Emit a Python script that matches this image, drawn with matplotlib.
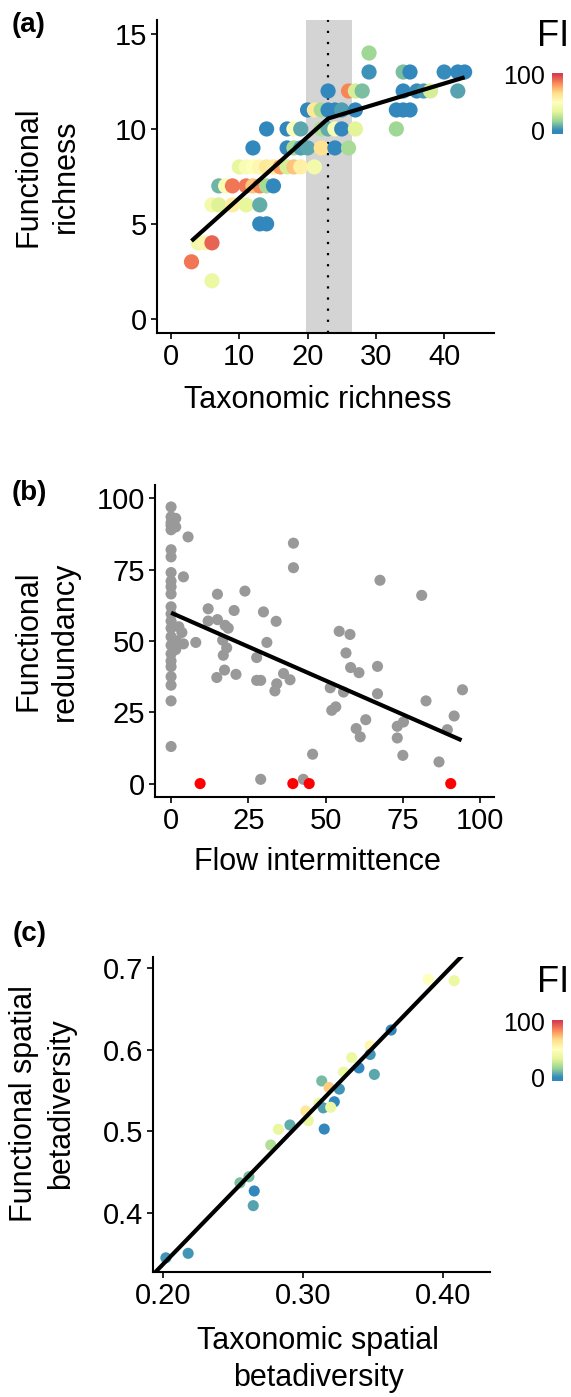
import numpy as np
import matplotlib
matplotlib.use("Agg")
import matplotlib.pyplot as plt
from matplotlib.colors import LinearSegmentedColormap, Normalize

plt.rcParams['font.family'] = ['Liberation Sans', 'DejaVu Sans']

# ---------------- data ----------------
# Panel (a): taxonomic richness vs functional richness, coloured by flow intermittence (FI)
a_x = [29,
       29, 34, 35, 40, 42, 43,
       23, 26, 27, 28, 34, 36, 37, 38, 42,
       20, 21, 22, 23, 24, 25, 27, 33, 34, 35,
       14, 17, 18, 19, 22, 23, 24, 25, 27, 33,
       12, 17, 18, 19, 20, 22, 24, 26,
       10, 11, 12, 13, 14, 15, 16, 17, 18, 19, 21,
       7, 8, 9, 11, 12, 13, 14, 15,
       6, 7, 9, 11, 13,
       13, 14,
       4, 5, 6,
       3,
       6]
a_y = [14,
       13, 13, 13, 13, 13, 13,
       12, 12, 12, 12, 12, 12, 12, 12, 12,
       11, 11, 11, 11, 11, 11, 11, 11, 11, 11,
       10, 10, 10, 10, 10, 10, 10, 10, 10, 10,
       9, 9, 9, 9, 9, 9, 9, 9,
       8, 8, 8, 8, 8, 8, 8, 8, 8, 8, 8,
       7, 7, 7, 7, 7, 7, 7, 7,
       6, 6, 6, 6, 6,
       5, 5,
       4, 4, 4,
       3,
       2]
a_fi = [18,
        2, 12, 0, 1, 0, 0,
        0, 85, 30, 12, 0, 1, 4, 30, 6,
        0, 62, 20, 0, 0, 5, 0, 0, 0, 0,
        0, 0, 48, 7, 22, 8, 45, 0, 33, 18,
        0, 0, 20, 5, 7, 65, 0, 20,
        35, 45, 48, 55, 62, 60, 80, 30, 72, 58, 42,
        10, 45, 88, 88, 72, 85, 20, 0,
        42, 32, 60, 35, 8,
        0, 0,
        40, 55, 92,
        88,
        38]
a_fit_x = [3, 23, 43]
a_fit_y = [4.1, 10.55, 12.72]
a_break = 23.0
a_break_ci = [19.7, 26.5]

# Panel (b): flow intermittence vs functional redundancy
b_x = [0, 0, 0, 0, 0, 0, 0, 0, 0, 0, 0, 0, 0, 0, 0, 0, 0, 0, 0, 0, 0, 0, 0, 0,
       1.5, 1.5, 5.5, 4, 3.5, 4, 1.8, 2.5, 1.5,
       8, 12, 12, 15, 15, 17.5, 18.5, 16.7, 18, 16.9, 17.3, 14.8, 20.4, 21, 23.9,
       27.7, 27.7, 29, 29, 29.9, 31, 34, 34.2, 33.6, 36.4, 38.5, 39.6, 39.6,
       42.8, 45.8, 51.5, 52, 53.3, 54.4, 57.9, 56.6, 58.1, 60.8, 55.8, 59.9,
       61.2, 63, 66.8, 66.8, 67.6, 73.2, 75.2, 73.2, 75, 81.1, 82.5, 86.7,
       89.4, 91.6, 94.3]
b_y = [97, 93.5, 91.5, 90.5, 89, 82, 79.5, 74, 71, 69, 66.5, 62, 59.5, 57, 54.5,
       51.5, 48.5, 45.5, 43, 41, 37.5, 34.5, 29, 13,
       93, 90, 86.5, 72.5, 53, 49, 50, 55, 47,
       49.5, 61.3, 57, 57.5, 66.4, 55.5, 54.5, 50.3, 47.6, 45, 39.8, 37.2, 60.7,
       38.3, 67.5, 44.2, 36.2, 36.2, 1.5, 60.2, 49.5, 56.9, 35, 32.5, 38.6, 36.4,
       84.3, 75.7, 1.5, 10.3, 33.6, 25.7, 26.9, 53.4, 52.3, 45.8, 40.7, 38.9,
       32.1, 19.3, 16.4, 22.4, 41.1, 31.5, 71.3, 20.1, 21.6, 16.0, 9.9, 66.0,
       29.0, 7.6, 18.9, 23.7, 32.9]
b_zero_x = [9.4, 39.4, 44.7, 90.5]
b_zero_y = [0, 0, 0, 0]
b_fit_x = [0, 94]
b_fit_y = [59.9, 15.2]

# Panel (c): taxonomic vs functional spatial betadiversity
c_x = [0.3895, 0.408, 0.363, 0.348, 0.348, 0.3348, 0.340, 0.351, 0.329, 0.3134,
       0.3186, 0.326, 0.3224, 0.3114, 0.3145, 0.3198, 0.302, 0.3038, 0.3152,
       0.2907, 0.2824, 0.277, 0.2614, 0.255, 0.2652, 0.2645, 0.2021, 0.218]
c_y = [0.687, 0.685, 0.6245, 0.605, 0.5945, 0.5906, 0.578, 0.570, 0.573, 0.562,
       0.554, 0.552, 0.5365, 0.5346, 0.529, 0.5297, 0.5252, 0.5133, 0.503,
       0.508, 0.5027, 0.4834, 0.4445, 0.437, 0.427, 0.409, 0.345, 0.3505]
c_fi = [50, 38, 0, 55, 3, 38, 0, 7, 38, 11,
        70, 3, 0, 38, 5, 38, 62, 37, 0,
        8, 36, 22, 11, 12, 0, 6, 3, 3]
c_intercept = -0.0174
c_slope = 1.772

spectral = ["#3288BD", "#99D594", "#E6F598", "#FFFFBF", "#FEE08B", "#FC8D59", "#D53E4F"]
cmap = LinearSegmentedColormap.from_list("spec", spectral)
norm = Normalize(0, 100)

# ---------------- figure ----------------
W, H = 571, 1397
fig = plt.figure(figsize=(W / 100, H / 100), dpi=100)


def box(l, t, r, b):
    return [l / W, 1 - b / H, (r - l) / W, (b - t) / H]


TICK_FS = 21
LAB_FS = 22
PANEL_FS = 20
LS = 1.3


def style(ax):
    for s in ['top', 'right']:
        ax.spines[s].set_visible(False)
    for s in ['left', 'bottom']:
        ax.spines[s].set_linewidth(1.5)
        ax.spines[s].set_color('black')
    ax.tick_params(length=4, width=1.2, labelsize=TICK_FS, pad=3, colors='black')


def colorbar(l, t):
    cax = fig.add_axes(box(l, t, l + 11, t + 61))
    grad = np.linspace(-6, 102, 256)[:, None]
    cax.imshow(grad, aspect='auto', cmap=cmap, norm=norm, origin='lower',
               extent=[0, 1, -6, 102])
    cax.set_xticks([])
    cax.set_yticks([0, 100])
    cax.set_yticklabels(['0', '100'])
    cax.yaxis.tick_left()
    cax.tick_params(length=0, labelsize=18, pad=5)
    for s in cax.spines.values():
        s.set_visible(False)
    fig.text((l + 1) / W, 1 - (t - 37) / H, 'FI', ha='center', va='center', fontsize=26)


# ----- panel (a)
ax = fig.add_axes(box(157, 20, 494, 333))
style(ax)
ax.axvspan(a_break_ci[0], a_break_ci[1], color='#d4d4d4', lw=0, zorder=0)
ax.axvline(a_break, color='black', lw=1.6, linestyle=(0, (1, 4)), zorder=1)
ax.scatter(a_x, a_y, c=a_fi, cmap=cmap, norm=norm, s=120, edgecolors='none', zorder=2)
ax.plot(a_fit_x, a_fit_y, color='black', lw=3, zorder=3, solid_capstyle='butt')
ax.set_xlim(-2.05, 47.3)
ax.set_ylim(-0.75, 15.74)
ax.set_xticks([0, 10, 20, 30, 40])
ax.set_yticks([0, 5, 10, 15])
ax.set_xlabel('Taxonomic richness', fontsize=LAB_FS, va='center')
ax.xaxis.set_label_coords(0.477, -0.214)
ax.set_ylabel('Functional\nrichness', fontsize=LAB_FS, va='center', linespacing=LS)
ax.yaxis.set_label_coords(-0.326, 0.5)
fig.text(29 / W, 1 - 25 / H, '(a)', ha='center', va='center', fontsize=PANEL_FS, fontweight='bold')
colorbar(552, 73)

# ----- panel (b)
ax = fig.add_axes(box(155, 485, 494, 797))
style(ax)
ax.scatter(b_x, b_y, color='#999999', s=64, edgecolors='none', zorder=2)
ax.scatter(b_zero_x, b_zero_y, color='#ff0000', s=64, edgecolors='none', zorder=3)
ax.plot(b_fit_x, b_fit_y, color='black', lw=3, zorder=4, solid_capstyle='butt')
ax.set_xlim(-5.2, 104.5)
ax.set_ylim(-4.7, 104.7)
ax.set_xticks([0, 25, 50, 75, 100])
ax.set_yticks([0, 25, 50, 75, 100])
ax.set_xlabel('Flow intermittence', fontsize=LAB_FS, va='center')
ax.xaxis.set_label_coords(0.48, -0.208)
ax.set_ylabel('Functional\nredundancy', fontsize=LAB_FS, va='center', linespacing=LS)
ax.yaxis.set_label_coords(-0.32, 0.5)
fig.text(29 / W, 1 - 493 / H, '(b)', ha='center', va='center', fontsize=PANEL_FS, fontweight='bold')

# ----- panel (c)
ax = fig.add_axes(box(153, 957, 490, 1272))
style(ax)
ax.scatter(c_x, c_y, c=c_fi, cmap=cmap, norm=norm, s=64, edgecolors='none', zorder=2)
xl = np.array([0.15, 0.46])
ax.plot(xl, c_intercept + c_slope * xl, color='black', lw=3, zorder=3)
ax.set_xlim(0.1929, 0.4336)
ax.set_ylim(0.3276, 0.7141)
ax.set_xticks([0.2, 0.3, 0.4])
ax.set_xticklabels(['0.20', '0.30', '0.40'])
ax.set_yticks([0.4, 0.5, 0.6, 0.7])
ax.set_yticklabels(['0.4', '0.5', '0.6', '0.7'])
ax.set_xlabel('Taxonomic spatial\nbetadiversity', fontsize=LAB_FS, va='center', linespacing=LS)
ax.xaxis.set_label_coords(0.49, -0.279)
ax.set_ylabel('Functional spatial\nbetadiversity', fontsize=LAB_FS, va='center', linespacing=LS)
ax.yaxis.set_label_coords(-0.327, 0.535)
fig.text(30 / W, 1 - 934 / H, '(c)', ha='center', va='center', fontsize=PANEL_FS, fontweight='bold')
colorbar(552, 1020)

fig.savefig('out.png', dpi=100)
